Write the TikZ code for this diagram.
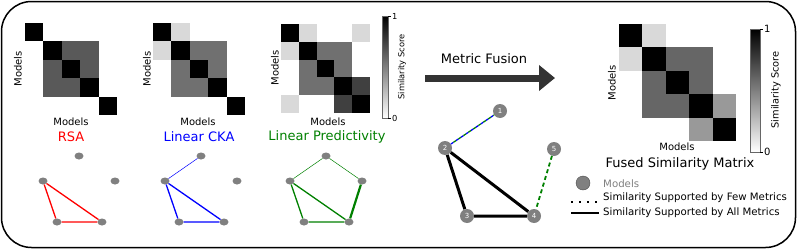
\documentclass[tikz,border=0pt]{standalone}
\usepackage{fontspec}
\setmainfont{DejaVu Sans}
\usetikzlibrary{arrows.meta,positioning,shapes.geometric}

\definecolor{nodegray}{HTML}{808080}
\definecolor{arrowgray}{HTML}{333333}
\definecolor{lpgreen}{HTML}{008000}

\begin{document}
\begin{tikzpicture}[
  x=1pt, y=-1pt,
  axlbl/.style={font=\fontsize{10}{11}\selectfont, inner sep=0pt},
  barlbl/.style={font=\fontsize{8.3}{9}\selectfont, inner sep=0pt},
  mtitle/.style={font=\fontsize{13}{15}\selectfont, inner sep=0pt},
  gnode/.style={ellipse, fill=nodegray, minimum width=9pt, minimum height=7pt, inner sep=0pt},
  model/.style={circle, fill=nodegray, minimum size=14pt, inner sep=0pt, text=white, font=\fontsize{7}{8}\selectfont},
  simedge/.style={line width=1.3pt},
  weak/.style={line width=0.5pt},
  legtext/.style={font=\fontsize{10.2}{11}\selectfont, inner sep=0pt, anchor=west},
  >=Latex
]
\useasboundingbox (0,0) rectangle (797,249);
\draw[line width=1.5pt, rounded corners=30pt] (1.5,1.5) rectangle (795.5,247.5);

% RSA matrix
\begin{scope}[xshift=25pt, yshift=-23pt, x=18.4pt, y=-18.4pt]
  \foreach \i/\j in {1/2,1/3,2/1,2/3,3/1,3/2} \fill[black!65] (\j,\i) rectangle ++(1,1);
  \foreach \i in {0,...,4} \fill[black] (\i,\i) rectangle ++(1,1);
\end{scope}
\node[axlbl, rotate=90] (rsay) at (18,69) {Models};
\node[axlbl] (rsax) at (71,122) {Models};
\node[mtitle, text=red] (rsa) at (71,137) {RSA};

% Linear CKA matrix
\begin{scope}[xshift=153pt, yshift=-23pt, x=18.4pt, y=-18.4pt]
  \foreach \i/\j in {1/2,1/3,2/1,2/3,3/1,3/2} \fill[black!56] (\j,\i) rectangle ++(1,1);
  \foreach \i/\j in {0/1,1/0} \fill[black!15] (\j,\i) rectangle ++(1,1);
  \foreach \i in {0,...,4} \fill[black] (\i,\i) rectangle ++(1,1);
\end{scope}
\node[axlbl, rotate=90] (ckay) at (147,69) {Models};
\node[axlbl] (ckax) at (198,122) {Models};
\node[mtitle, text=blue] (cka) at (199,137) {Linear CKA};

% Linear Predictivity matrix
\begin{scope}[xshift=281pt, yshift=-24pt, x=17.8pt, y=-17.8pt]
  \foreach \i/\j in {1/2,1/3,2/1,2/3,3/1,3/2} \fill[black!56] (\j,\i) rectangle ++(1,1);
  \foreach \i/\j in {0/1,1/0,0/4,4/0} \fill[black!15] (\j,\i) rectangle ++(1,1);
  \foreach \i/\j in {3/4,4/3} \fill[black!75] (\j,\i) rectangle ++(1,1);
  \foreach \i in {0,...,4} \fill[black] (\i,\i) rectangle ++(1,1);
\end{scope}
\node[axlbl, rotate=90] (lpy) at (275,68) {Models};
\node[axlbl] (lpx) at (328,122) {Models};
\node[mtitle, text=lpgreen] (lp) at (327,137) {Linear Predictivity};

% colorbar
\shade[top color=black, bottom color=white] (382,16) rectangle (388,118);
\draw[line width=0.3pt, black!60] (382,16) rectangle (388,118);
\draw[line width=0.4pt] (388,16) -- ++(3,0) (388,118) -- ++(3,0);
\node[barlbl, anchor=west] (lpone) at (392,16) {1};
\node[barlbl, anchor=west] (lpzero) at (392,118) {0};
\node[barlbl, rotate=90] (lpbar) at (402,67) {Similarity Score};

% per-metric graphs
\foreach \g/\dx in {r/0, c/122, p/247} {
  \node[gnode] (\g1) at (79+\dx,156) {};
  \node[gnode] (\g2) at (43+\dx,181) {};
  \node[gnode] (\g5) at (115+\dx,181) {};
  \node[gnode] (\g3) at (57+\dx,222) {};
  \node[gnode] (\g4) at (102+\dx,222) {};
}
\draw[simedge, red] (r2) -- (r3) -- (r4) -- (r2);
\draw[weak, blue] (c1) -- (c2);
\draw[simedge, blue] (c2) -- (c3) -- (c4) -- (c2);
\draw[weak, lpgreen] (p2) -- (p1) -- (p5);
\draw[simedge, lpgreen] (p2) -- (p3) -- (p4) -- (p2);
\draw[lpgreen, line width=2.2pt] (p5) -- (p4);

% fusion arrow
\coordinate (fusestart) at (425,78);
\coordinate (fuseend) at (555,78);
\draw[arrowgray, line width=7pt, -{Triangle[length=16pt, width=25pt]}] (fusestart) -- (fuseend);
\node[mtitle] (fusion) at (484,59) {Metric Fusion};

% fused graph
\node[model] (f1) at (500,111) {1};
\node[model] (f2) at (445,148) {2};
\node[model] (f3) at (467,216) {3};
\node[model] (f4) at (534,216) {4};
\node[model] (f5) at (554,149) {5};
\draw[blue, line width=1.3pt, dash pattern=on 3pt off 3pt] (f2) -- (f1);
\draw[lpgreen, line width=1.3pt, dash pattern=on 3pt off 3pt, dash phase=3pt] (f2) -- (f1);
\draw[lpgreen, line width=1.8pt, dash pattern=on 4pt off 3pt] (f5) -- (f4);
\draw[line width=3pt] (f2) -- (f3) -- (f4) -- (f2);

% fused matrix
\begin{scope}[xshift=619pt, yshift=-24pt, x=23.4pt, y=-23.4pt]
  \foreach \i/\j in {1/2,1/3,2/1,2/3,3/1,3/2} \fill[black!60] (\j,\i) rectangle ++(1,1);
  \foreach \i/\j in {0/1,1/0} \fill[black!15] (\j,\i) rectangle ++(1,1);
  \foreach \i/\j in {3/4,4/3} \fill[black!40] (\j,\i) rectangle ++(1,1);
  \foreach \i in {0,...,4} \fill[black] (\i,\i) rectangle ++(1,1);
\end{scope}
\node[axlbl, rotate=90] (fusedy) at (612,83) {Models};
\node[axlbl] (fusedx) at (677,147) {Models};
\shade[top color=black, bottom color=white] (750,29) rectangle (760,152);
\draw[line width=0.3pt, black!60] (750,29) rectangle (760,152);
\draw[line width=0.4pt] (760,29) -- ++(3,0) (760,152) -- ++(3,0);
\node[axlbl, anchor=west] (fusedone) at (764,29) {1};
\node[axlbl, anchor=west] (fusedzero) at (764,152) {0};
\node[axlbl, rotate=90, font=\fontsize{9.8}{11}\selectfont] (fusedbar) at (776,90) {Similarity Score};
\node[mtitle] (fused) at (680,164) {Fused Similarity Matrix};

% legend
\node[circle, fill=nodegray, draw=black!70, minimum size=14pt, inner sep=0pt] (legnode) at (583,183) {};
\node[legtext, text=nodegray] (legmodels) at (603,184) {Models};
\coordinate (fewa) at (571,202);
\coordinate (fewb) at (599,202);
\draw[line width=1.6pt, dash pattern=on 2pt off 6pt] (fewa) -- (fewb);
\node[legtext] (legfew) at (603,198) {Similarity Supported by Few Metrics};
\coordinate (alla) at (571,213);
\coordinate (allb) at (599,213);
\draw[line width=2pt] (alla) -- (allb);
\node[legtext] (legall) at (603,213) {Similarity Supported by All Metrics};
\end{tikzpicture}
\end{document}
